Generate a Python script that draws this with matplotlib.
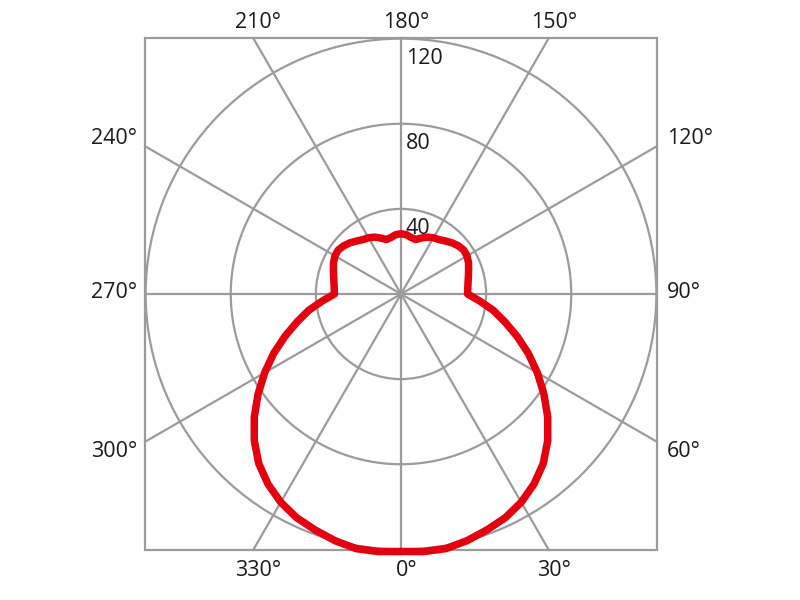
import numpy as np
import matplotlib
matplotlib.use("Agg")
import matplotlib.pyplot as plt
from matplotlib.patches import Rectangle

# ---- data (half curve, symmetric about the 0-180 axis) ----
angles_deg = [0, 5, 10, 15, 20, 25, 30, 35, 40, 45, 50, 55, 60, 65, 70, 75, 80, 85, 90,
              95, 100, 105, 110, 115, 120, 125, 130, 135, 140, 145, 150, 155, 160, 165,
              170, 175, 180]
intensity = [121, 121.5, 121.5, 120, 118, 116, 113, 109, 104, 97.5, 90, 82, 74, 66, 58,
             50.5, 44, 37, 31.3,
             31.5, 32, 32.8, 33.8, 35, 35.8, 36, 35.2, 34, 32.5, 31.2, 30.5, 29.5, 28,
             26.5, 27, 28, 28.3]
grid_radii = [40, 80, 120]
grid_labels = ["40", "80", "120"]
spoke_angles = [0, 30, 60, 90, 120, 150, 180, 210, 240, 270, 300, 330]
spoke_labels = ["0°", "30°", "60°", "90°", "120°", "150°", "180°", "210°", "240°",
                "270°", "300°", "330°"]

GRAY = "#9b9b9b"
RED = "#e3000f"
TXT = "#1a1a1a"
FS = 15.5

plt.rcParams["font.family"] = ["Open Sans", "DejaVu Sans"]

fig = plt.figure(figsize=(8, 6), dpi=100)
rect = [145 / 800, 50 / 600, 512 / 800, 512 / 600]
ax = fig.add_axes(rect, projection="polar")
ax.set_theta_zero_location("S")
ax.set_theta_direction(1)
R = 120.3
ax.set_ylim(0, R)
ax.set_xticks([])
ax.set_yticks(grid_radii)
ax.set_yticklabels([])
ax.yaxis.grid(True, color=GRAY, lw=1.6)
ax.xaxis.grid(False)
for gl in ax.yaxis.get_gridlines():
    gl.set_clip_on(False)
ax.spines["polar"].set_visible(False)
ax.tick_params(length=0)

# square frame
ax.add_patch(Rectangle((0, 0), 1, 1, transform=ax.transAxes, fill=False,
                       ec=GRAY, lw=1.6, clip_on=False, zorder=2))

# spokes to the square frame
for a, lab in zip(spoke_angles, spoke_labels):
    th = np.deg2rad(a)
    L = R / max(abs(np.sin(th)), abs(np.cos(th)))
    ax.plot([th, th], [0, L], color=GRAY, lw=1.6, clip_on=False, zorder=1)
    if a in (150, 180, 210):
        kw = dict(xytext=(3.8, 7), ha="center", va="baseline")
    elif a in (330, 0, 30):
        kw = dict(xytext=(3.8, -7), ha="center", va="top")
    elif a in (60, 90, 120):
        va = {60: "top", 90: "center", 120: "baseline"}[a]
        dy = {60: 0.5, 90: 1, 120: 1.5}[a]
        kw = dict(xytext=(7, dy), ha="left", va=va)
    else:
        va = {300: "top", 270: "center", 240: "baseline"}[a]
        dy = {300: 0.5, 270: 1, 240: 1.5}[a]
        kw = dict(xytext=(-5.5, dy), ha="right", va=va)
    ax.annotate(lab, xy=(th, L), textcoords="offset points", fontsize=FS,
                color=TXT, annotation_clip=False, **kw)

# radial labels along the 180° spoke
for r, lab in zip(grid_radii, grid_labels):
    ax.annotate(lab, xy=(np.pi, r), xytext=(3.6, -6.5), textcoords="offset points",
                ha="left", va="top", fontsize=FS, color=TXT, zorder=3)

# intensity curve (mirror the half curve)
ang = np.array(angles_deg, dtype=float)
val = np.array(intensity, dtype=float)
theta = np.deg2rad(np.concatenate([ang, 360 - ang[::-1][1:]]))
rr = np.concatenate([val, val[::-1][1:]])
ax.plot(theta, rr, color=RED, lw=5.4, clip_on=False, zorder=5,
        solid_joinstyle="round", solid_capstyle="round")

fig.savefig("out.png", dpi=100)
